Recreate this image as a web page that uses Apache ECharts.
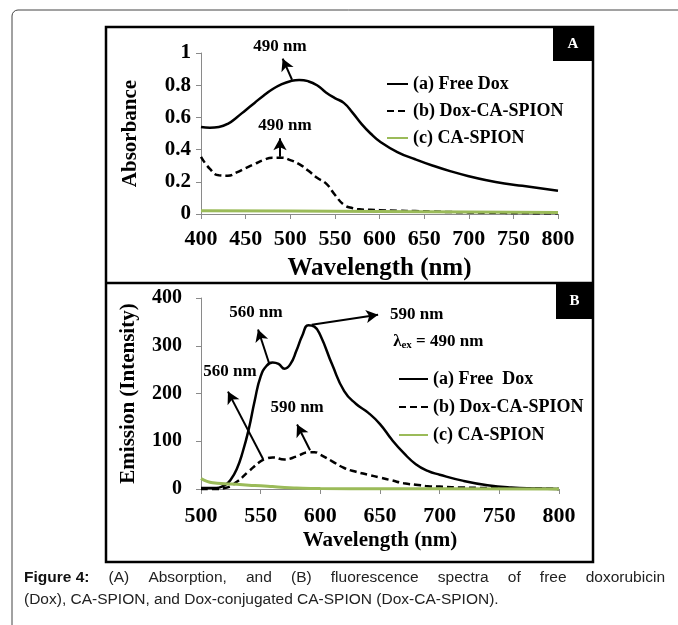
<!DOCTYPE html>
<html>
<head>
<meta charset="utf-8">
<script src="https://cdn.jsdelivr.net/npm/echarts@6/dist/echarts.min.js"></script>
<style>
  html, body { margin: 0; padding: 0; background: #fff; }
  #chart { width: 678px; height: 625px; }
</style>
</head>
<body>
<div id="chart"></div>
<script>
// Panel A - absorption spectra
const wlFreeDoxA = [400, 410, 420, 430, 440, 450, 460, 470, 480, 490, 500, 510, 520, 530, 540, 550, 560, 570, 580, 590, 600, 620, 640, 660, 680, 700, 720, 740, 760, 780, 800];
const freeDoxA = [0.54, 0.535, 0.54, 0.56, 0.6, 0.645, 0.69, 0.735, 0.775, 0.805, 0.825, 0.833, 0.825, 0.8, 0.755, 0.72, 0.69, 0.628, 0.558, 0.5, 0.452, 0.385, 0.34, 0.3, 0.265, 0.235, 0.21, 0.19, 0.175, 0.16, 0.145];
const wlDoxSpionA = [400, 410, 420, 430, 440, 450, 460, 470, 480, 490, 500, 510, 520, 530, 540, 550, 560, 570, 580, 590, 600, 620, 640, 660, 680, 700, 720, 740, 760, 780, 800];
const doxSpionA = [0.355, 0.28, 0.24, 0.238, 0.258, 0.285, 0.31, 0.335, 0.35, 0.35, 0.335, 0.31, 0.27, 0.225, 0.19, 0.12, 0.058, 0.036, 0.028, 0.026, 0.024, 0.02, 0.018, 0.015, 0.012, 0.01, 0.008, 0.007, 0.006, 0.005, 0.005];
const wlSpionA = [400, 500, 600, 700, 800];
const spionA = [0.02, 0.018, 0.015, 0.012, 0.01];

// Panel B - fluorescence spectra
const wlFreeDoxB = [500, 510, 520, 525, 530, 535, 540, 545, 550, 555, 560, 565, 570, 575, 580, 585, 590, 595, 600, 610, 620, 630, 640, 650, 660, 670, 680, 690, 700, 720, 740, 760, 780, 800];
const freeDoxB = [2, 2, 8, 20, 42, 78, 125, 185, 236, 258, 265, 262, 252, 262, 290, 322, 343, 340, 322, 260, 205, 178, 160, 136, 103, 75, 52, 38, 30, 17, 8, 3, 1, 0];
const wlDoxSpionB = [500, 510, 520, 530, 540, 550, 555, 560, 570, 580, 590, 595, 600, 610, 620, 630, 640, 650, 660, 670, 680, 690, 700, 720, 740, 760, 780, 800];
const doxSpionB = [0, 0, 2, 15, 37, 58, 64, 66, 62, 68, 77, 77, 72, 58, 44, 36, 30, 24, 18, 12, 9, 6, 5, 3, 2, 1, 1, 0];
const wlSpionB = [500, 505, 510, 520, 530, 540, 550, 560, 570, 580, 600, 650, 700, 800];
const spionB = [22, 16, 13, 11, 10, 8, 7, 5, 3, 2, 1, 0.5, 0.3, 0];

const namesA = ['(a) Free Dox', '(b) Dox-CA-SPION', '(c) CA-SPION'];
const namesB = ['(a) Free  Dox', '(b) Dox-CA-SPION ', '(c) CA-SPION '];

const captionLine1 = ['Figure 4:', '(A)', 'Absorption,', 'and', '(B)', 'fluorescence', 'spectra', 'of', 'free', 'doxorubicin'];
const captionLine2 = '(Dox), CA-SPION, and Dox-conjugated CA-SPION (Dox-CA-SPION).';

const SERIF = '"Liberation Serif", "Times New Roman", serif';
const SANS = '"Liberation Sans", Arial, sans-serif';
const GREEN = '#9bbb59';
const CAP = 15.5;

const pairs = (xs, ys) => xs.map((x, i) => [x, ys[i]]);

function textPoint(coord, text, size, align) {
  return {
    coord: coord, name: text, symbolSize: 0,
    label: {
      show: true, position: 'inside', formatter: text,
      color: '#000', fontFamily: SERIF, fontWeight: 'bold', fontSize: size || 17,
      align: align || 'center'
    }
  };
}
function arrow(from, to) {
  return [{ coord: from }, { coord: to }];
}
const arrowLine = {
  silent: true, symbol: ['none', 'arrow'], symbolSize: [10, 12],
  lineStyle: { color: '#000', width: 2, type: 'solid' },
  label: { show: false }, emphasis: { disabled: true }, animation: false
};

const axisCommon = {
  axisLine: { show: true, lineStyle: { color: '#8a8a8a', width: 1 } },
  axisTick: { show: true, inside: false, length: 5, lineStyle: { color: '#8a8a8a' } },
  splitLine: { show: false },
  nameMoveOverlap: false
};
const nameStyle = (size) => ({ color: '#000', fontFamily: SERIF, fontWeight: 'bold', fontSize: size });
const tickLabel = (size, margin) => ({ color: '#000', fontFamily: SERIF, fontWeight: 'bold', fontSize: size, margin: margin });
const legendText = { color: '#000', fontFamily: SERIF, fontWeight: 'bold', fontSize: 18, lineHeight: 18 };

// justify caption line 1 across the figure width
const ctx = document.createElement('canvas').getContext('2d');
ctx.font = 'bold ' + CAP + 'px ' + SANS;
let wordsWidth = ctx.measureText(captionLine1[0]).width;
ctx.font = CAP + 'px ' + SANS;
captionLine1.slice(1).forEach(w => { wordsWidth += ctx.measureText(w).width; });
const spaceWidth = Math.max(4, (641 - wordsWidth) / (captionLine1.length - 1));
const line1Text = '{b|' + captionLine1[0] + '}' + captionLine1.slice(1).map(w => '{sp|}{t|' + w + '}').join('');

const chart = echarts.init(document.getElementById('chart'));

chart.setOption({
  animation: false,
  backgroundColor: '#fff',
  grid: [
    { left: 201, top: 53, right: 120, bottom: 411 },
    { left: 201, top: 298, right: 119, bottom: 136 }
  ],
  xAxis: [
    Object.assign({}, axisCommon, {
      type: 'value', gridIndex: 0, min: 400, max: 800, interval: 50,
      name: 'Wavelength (nm)', nameLocation: 'middle', nameGap: 42, nameTextStyle: nameStyle(25),
      axisLabel: tickLabel(22, 14)
    }),
    Object.assign({}, axisCommon, {
      type: 'value', gridIndex: 1, min: 500, max: 800, interval: 50,
      name: 'Wavelength (nm)', nameLocation: 'middle', nameGap: 41, nameTextStyle: nameStyle(21),
      axisLabel: tickLabel(22, 16)
    })
  ],
  yAxis: [
    Object.assign({}, axisCommon, {
      type: 'value', gridIndex: 0, min: 0, max: 1, interval: 0.2,
      name: 'Absorbance', nameLocation: 'middle', nameGap: 60, nameRotate: 90, nameTextStyle: nameStyle(21),
      axisLabel: tickLabel(21, 10)
    }),
    Object.assign({}, axisCommon, {
      type: 'value', gridIndex: 1, min: 0, max: 400, interval: 100,
      name: 'Emission (Intensity)', nameLocation: 'middle', nameGap: 62, nameRotate: 90, nameTextStyle: nameStyle(21),
      axisLabel: tickLabel(20, 19)
    })
  ],
  legend: [
    {
      data: namesA, orient: 'vertical', left: 381, top: 70,
      itemWidth: 21, itemHeight: 14, itemGap: 9, selectedMode: false,
      itemStyle: { opacity: 0 }, textStyle: legendText
    },
    {
      data: namesB, orient: 'vertical', left: 393, top: 365,
      itemWidth: 29, itemHeight: 14, itemGap: 10, selectedMode: false,
      itemStyle: { opacity: 0 }, textStyle: legendText
    }
  ],
  series: [
    {
      name: namesA[0], type: 'line', xAxisIndex: 0, yAxisIndex: 0, smooth: true,
      symbol: 'none', clip: false, z: 3,
      lineStyle: { color: '#000', width: 2.5 }, itemStyle: { color: '#000' },
      data: pairs(wlFreeDoxA, freeDoxA),
      markLine: Object.assign({ data: [arrow([502, 0.834], [491.5, 0.965]), arrow([488.5, 0.355], [488.5, 0.47])] }, arrowLine),
      markPoint: { silent: true, data: [textPoint([494, 0.548], '490 nm')] }
    },
    {
      name: namesA[1], type: 'line', xAxisIndex: 0, yAxisIndex: 0, smooth: true,
      symbol: 'none', clip: false, z: 3,
      lineStyle: { color: '#000', width: 2.5, type: [7, 4] }, itemStyle: { color: '#000' },
      data: pairs(wlDoxSpionA, doxSpionA)
    },
    {
      name: namesA[2], type: 'line', xAxisIndex: 0, yAxisIndex: 0, smooth: true,
      symbol: 'none', clip: false, z: 4,
      lineStyle: { color: GREEN, width: 3 }, itemStyle: { color: GREEN },
      data: pairs(wlSpionA, spionA)
    },
    {
      name: namesB[0], type: 'line', xAxisIndex: 1, yAxisIndex: 1, smooth: true,
      symbol: 'none', clip: false, z: 3,
      lineStyle: { color: '#000', width: 2.5 }, itemStyle: { color: '#000' },
      data: pairs(wlFreeDoxB, freeDoxB),
      markLine: Object.assign({
        data: [
          arrow([557, 264], [547.8, 334]),
          arrow([592.8, 344], [648.4, 365]),
          arrow([552, 63], [522.6, 204]),
          arrow([591.4, 81], [580.5, 135])
        ]
      }, arrowLine),
      markPoint: {
        silent: true,
        data: [
          textPoint([546, 369], '560 nm'),
          textPoint([658.4, 365], '590 nm', 17, 'left'),
          textPoint([524.3, 246], '560 nm'),
          textPoint([580.5, 170], '590 nm'),
          {
            coord: [661, 309], symbolSize: 0,
            label: {
              show: true, position: 'inside', align: 'left',
              formatter: '{l|λ}{s|ex}{l| = 490 nm}',
              rich: {
                l: { color: '#000', fontFamily: SERIF, fontWeight: 'bold', fontSize: 17 },
                s: { color: '#000', fontFamily: SERIF, fontWeight: 'bold', fontSize: 11, padding: [8, 0, 0, 0] }
              }
            }
          }
        ]
      }
    },
    {
      name: namesB[1], type: 'line', xAxisIndex: 1, yAxisIndex: 1, smooth: true,
      symbol: 'none', clip: false, z: 3,
      lineStyle: { color: '#000', width: 2.5, type: [7, 4] }, itemStyle: { color: '#000' },
      data: pairs(wlDoxSpionB, doxSpionB)
    },
    {
      name: namesB[2], type: 'line', xAxisIndex: 1, yAxisIndex: 1, smooth: true,
      symbol: 'none', clip: false, z: 4,
      lineStyle: { color: GREEN, width: 3 }, itemStyle: { color: GREEN },
      data: pairs(wlSpionB, spionB)
    }
  ]
});

// label above the top of panel A sits outside the y range, so place it through the axis scale
const topLabel = chart.convertToPixel({ xAxisIndex: 0, yAxisIndex: 0 }, [488.5, 1.04]);

chart.setOption({
  graphic: [
    // outer page frame
    { type: 'rect', shape: { x: 12, y: 10, width: 700, height: 650, r: 6 }, style: { fill: 'none', stroke: '#444', lineWidth: 1 }, silent: true },
    // figure box and divider
    { type: 'rect', shape: { x: 106, y: 27, width: 487, height: 535 }, style: { fill: 'none', stroke: '#000', lineWidth: 2.5 }, silent: true },
    { type: 'line', shape: { x1: 106, y1: 283, x2: 593, y2: 283 }, style: { stroke: '#000', lineWidth: 2.5 }, silent: true },
    { type: 'rect', shape: { x: 553, y: 27, width: 40, height: 34 }, style: { fill: '#000' }, silent: true },
    { type: 'text', x: 573, y: 44, style: { text: 'A', fill: '#fff', font: 'bold 15px ' + SERIF, align: 'center', verticalAlign: 'middle' }, silent: true },
    { type: 'rect', shape: { x: 556, y: 283, width: 37, height: 36 }, style: { fill: '#000' }, silent: true },
    { type: 'text', x: 574.5, y: 301, style: { text: 'B', fill: '#fff', font: 'bold 15px ' + SERIF, align: 'center', verticalAlign: 'middle' }, silent: true },
    { type: 'text', x: topLabel[0], y: topLabel[1], style: { text: '490 nm', fill: '#000', font: 'bold 17px ' + SERIF, align: 'center', verticalAlign: 'middle' }, silent: true },
    // caption
    {
      type: 'text', x: 24, y: 578, silent: true,
      style: {
        text: line1Text, fill: '#222', verticalAlign: 'middle',
        rich: {
          b: { font: 'bold ' + CAP + 'px ' + SANS, fill: '#111' },
          t: { font: CAP + 'px ' + SANS, fill: '#222' },
          sp: { width: spaceWidth, font: CAP + 'px ' + SANS }
        }
      }
    },
    {
      type: 'text', x: 24, y: 600, silent: true,
      style: { text: captionLine2, font: CAP + 'px ' + SANS, fill: '#222', verticalAlign: 'middle' }
    }
  ]
});
</script>
</body>
</html>
